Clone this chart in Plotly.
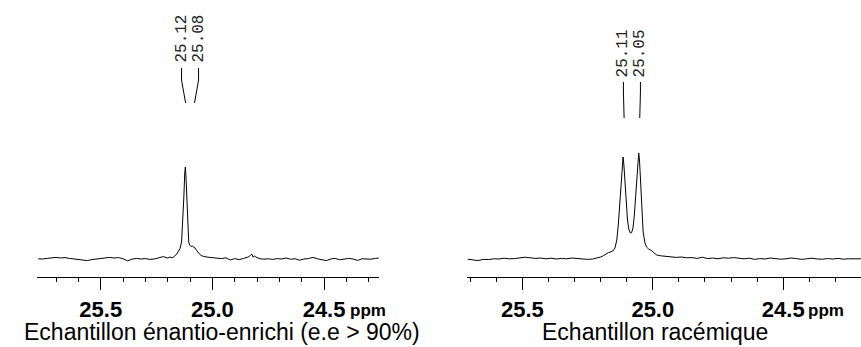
import plotly.graph_objects as go

# spectre 1 : echantillon enantio-enrichi (ppm, intensite)
ppm_enr = [25.78, 25.76, 25.74, 25.72, 25.70, 25.68, 25.66, 25.64, 25.62, 25.60,
           25.58, 25.56, 25.54, 25.52, 25.50, 25.48, 25.46, 25.44, 25.42, 25.40,
           25.38, 25.36, 25.34, 25.32, 25.30, 25.28, 25.26, 25.24, 25.22, 25.20,
           25.19, 25.18, 25.17, 25.16, 25.152, 25.145, 25.138, 25.133, 25.128, 25.124,
           25.121, 25.118, 25.114, 25.110, 25.106, 25.102, 25.096, 25.090, 25.084, 25.078,
           25.072, 25.066, 25.058, 25.050, 25.040, 25.02, 25.00, 24.98, 24.96, 24.94,
           24.92, 24.90, 24.88, 24.86, 24.84, 24.83, 24.823, 24.818, 24.812, 24.805,
           24.79, 24.77, 24.75, 24.73, 24.71, 24.69, 24.67, 24.65, 24.63, 24.61,
           24.59, 24.57, 24.55, 24.53, 24.51, 24.49, 24.47, 24.45, 24.43, 24.41,
           24.39, 24.37, 24.35, 24.33, 24.31, 24.29, 24.27, 24.255]
int_enr = [1.2, 1.0, 1.6, 2.2, 2.6, 2.0, 2.4, 1.6, 1.2, 0.6,
           0.2, -0.6, 0.4, 1.0, 1.4, 2.2, 2.6, 2.0, 2.4, 1.2,
           -0.8, 0.8, 1.6, 1.0, 1.4, 0.6, 1.0, 2.2, 3.4, 2.0,
           3.0, 2.2, 3.6, 6.0, 9.0, 11.5, 18.0, 35.0, 62.0, 86.0,
           93.0, 82.0, 55.0, 30.0, 18.0, 15.0, 13.5, 14.0, 13.0, 12.0,
           10.0, 8.0, 6.0, 4.5, 3.6, 2.8, 2.2, 2.0, 1.4, 2.2,
           0.0, 1.4, 0.4, 1.6, 3.0, 4.6, 5.8, 2.8, 4.0, 3.0,
           1.4, 0.8, 1.2, 0.6, 1.4, 1.0, 2.0, 0.8, 1.2, -0.2,
           1.0, 1.4, 2.6, 1.2, 0.6, -0.6, 1.0, 1.6, 0.2, 0.6,
           1.6, 1.0, -0.4, 1.2, 1.0, 0.8, 1.6, 2.0]

# spectre 2 : echantillon racemique
ppm_rac = [25.71, 25.69, 25.67, 25.65, 25.63, 25.61, 25.59, 25.57, 25.55, 25.53,
           25.51, 25.49, 25.47, 25.45, 25.43, 25.41, 25.39, 25.37, 25.35, 25.33,
           25.31, 25.29, 25.27, 25.25, 25.23, 25.216, 25.20, 25.19, 25.18, 25.17,
           25.16, 25.152, 25.145, 25.138, 25.132, 25.126, 25.121, 25.117, 25.114, 25.111,
           25.107, 25.102, 25.097, 25.092, 25.086, 25.081, 25.076, 25.071, 25.066, 25.061,
           25.057, 25.054, 25.051, 25.047, 25.042, 25.037, 25.030, 25.024, 25.016, 25.005,
           24.995, 24.985, 24.97, 24.95, 24.93, 24.91, 24.89, 24.87, 24.85, 24.83,
           24.81, 24.79, 24.77, 24.75, 24.73, 24.71, 24.69, 24.67, 24.65, 24.63,
           24.61, 24.59, 24.57, 24.55, 24.53, 24.51, 24.49, 24.47, 24.45, 24.43,
           24.41, 24.39, 24.37, 24.35, 24.33, 24.31, 24.29, 24.27, 24.25, 24.23,
           24.21, 24.20]
int_rac = [0.8, 0.2, -0.6, 0.6, 0.4, 1.2, 1.0, 1.8, 1.2, 1.4,
           2.0, 2.8, 2.2, 1.6, 2.0, 1.2, 1.8, 1.0, 1.6, 1.2,
           2.0, 1.4, 1.0, 0.6, 1.0, 1.8, 3.0, 4.2, 6.0, 7.4,
           8.2, 9.4, 12.0, 20.0, 36.0, 58.0, 84.0, 100.0, 103.0, 96.0,
           78.0, 55.0, 40.0, 31.0, 27.0, 27.5, 32.0, 44.0, 62.0, 84.0,
           102.0, 107.0, 100.0, 80.0, 50.0, 28.0, 17.0, 13.0, 11.0, 9.5,
           7.0, 5.0, 4.2, 3.8, 3.0, 2.6, 3.0, 2.2, 2.4, 1.6,
           2.8, 1.4, 2.0, 1.2, 2.2, 1.8, 2.4, 1.6, 1.2, 1.8,
           0.6, 1.4, 1.0, 2.0, 1.6, 0.8, 1.2, 2.0, 1.4, 0.6,
           1.2, 1.8, 1.0, 0.8, 1.4, 1.0, 1.6, 0.8, 1.2, 1.0,
           1.4, 1.2]

tick_vals = [25.5, 25.0, 24.5]
tick_text = ["25.5", "25.0", "24.5"]
labels_enr = [25.12, 25.08]
labels_rac = [25.11, 25.05]
titre_enr = "Echantillon énantio-enrichi (e.e > 90%)"
titre_rac = "Echantillon racémique"

W, H = 861, 347
AXE_Y = 277.3  # position de la ligne d'axe (px depuis le haut)


def py(px):
    # pixel (depuis le haut) -> coordonnee papier
    return 1 - px / H


fig = go.Figure()
fig.add_trace(go.Scatter(x=ppm_enr, y=int_enr, mode="lines", xaxis="x", yaxis="y",
                         line=dict(color="black", width=1)))
fig.add_trace(go.Scatter(x=ppm_rac, y=int_rac, mode="lines", xaxis="x2", yaxis="y2",
                         line=dict(color="black", width=1)))

axe_x = dict(showline=True, linecolor="black", linewidth=1, showgrid=False, zeroline=False,
             ticks="outside", ticklen=12, tickwidth=1, tickcolor="black",
             tickmode="array", tickvals=tick_vals, ticktext=tick_text,
             tickfont=dict(family="Liberation Sans", size=22, color="black", weight="bold"),
             minor=dict(ticks="outside", ticklen=4, tickcolor="black", tickwidth=1,
                        tickmode="linear", tick0=24.0, dtick=0.1),
             fixedrange=True)
axe_y = dict(visible=False, range=[-(AXE_Y - 260), 260], domain=[py(AXE_Y), 1], fixedrange=True)

fig.update_layout(
    width=W, height=H, autosize=False,
    margin=dict(l=0, r=0, t=0, b=0),
    paper_bgcolor="white", plot_bgcolor="white",
    showlegend=False,
    xaxis=dict(axe_x, domain=[37.3 / W, 379 / W], range=[25.784, 24.254], anchor="y"),
    yaxis=dict(axe_y, anchor="x"),
    xaxis2=dict(axe_x, domain=[467.3 / W, 1], range=[25.711, 24.202], anchor="y2"),
    yaxis2=dict(axe_y, anchor="x2"),
)

# etiquettes des pics + traits de liaison
def etiquettes(valeurs, xref, px_per_ppm, y_haut, y_coude, y_bas):
    centre = sum(valeurs) / len(valeurs)
    ecart = 17 / px_per_ppm
    positions = [centre + ecart / 2, centre - ecart / 2]
    for v, pos in zip(valeurs, positions):
        fig.add_annotation(x=pos, y=py(y_haut - 3), xref=xref, yref="paper",
                           text=f"{v:.2f}", textangle=-90, showarrow=False,
                           xanchor="center", yanchor="bottom",
                           font=dict(family="Liberation Mono", size=16, color="#222"))
        fig.add_shape(type="path", xref=xref, yref="paper",
                      path=f"M {pos},{py(y_haut)} L {pos},{py(y_coude)} L {v},{py(y_bas)}",
                      line=dict(color="black", width=1))


etiquettes(labels_enr, "x", 223.3, 68, 80, 103)
etiquettes(labels_rac, "x2", 261.0, 82, 92, 118)

# unite ppm
fig.add_annotation(x=348 / W, y=py(322), xref="paper", yref="paper", text="<b>ppm</b>",
                   showarrow=False, xanchor="left", yanchor="bottom",
                   font=dict(family="Liberation Sans", size=17, color="black"))
fig.add_annotation(x=806 / W, y=py(322), xref="paper", yref="paper", text="<b>ppm</b>",
                   showarrow=False, xanchor="left", yanchor="bottom",
                   font=dict(family="Liberation Sans", size=17, color="black"))

# titres sous chaque spectre
fig.add_annotation(x=222 / W, y=py(347), xref="paper", yref="paper", text=titre_enr,
                   showarrow=False, xanchor="center", yanchor="bottom",
                   font=dict(family="Liberation Sans", size=23, color="black"))
fig.add_annotation(x=655 / W, y=py(347), xref="paper", yref="paper", text=titre_rac,
                   showarrow=False, xanchor="center", yanchor="bottom",
                   font=dict(family="Liberation Sans", size=23, color="black"))

fig.write_html("out.html", config={"displayModeBar": False},
               post_script="document.body.style.margin='0px';")
